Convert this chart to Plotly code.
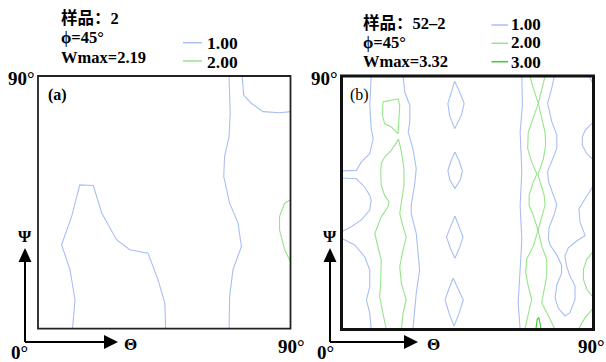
import plotly.graph_objects as go

W, H = 606, 362

# ---------------- data (Θ, Ψ in degrees) ----------------
# Panel (a) – sample 2
a_c1_theta = [12.3, 13.2, 11.4, 8.4, 12.0, 14.9, 19.7, 22.7, 28.0, 32.7, 39.2, 42.8, 45.2, 45.5]
a_c1_psi = [0, 10.3, 21.0, 29.9, 40.0, 51.2, 51.0, 41.2, 31.7, 28.1, 26.9, 17.4, 9.1, 0]
a_c2_theta = [68.1, 68.5, 68.1, 66.5, 66.2, 68.3, 71.3, 72.5, 69.5, 68.3, 68.1]
a_c2_psi = [90, 76.7, 68.4, 61.3, 54.2, 44.7, 37.6, 29.3, 21.0, 11.5, 0]
a_c3_theta = [72.8, 73.3, 76.0, 80.2, 86.1, 90]
a_c3_psi = [90, 83.2, 80.3, 77.3, 76.9, 77.3]
a_g1_theta = [90, 87.9, 86.1, 86.1, 87.9, 90]
a_g1_psi = [45.9, 44.7, 40.0, 35.2, 28.1, 23.9]

# Panel (b) – sample 52-2, level 1.00
b_b1a_theta = [10.6, 10.1, 10.6, 11.3, 10.1, 7.1, 5.3, 0]
b_b1a_psi = [90, 79.6, 71.3, 67.7, 62.4, 59.5, 56.5, 56.3]
b_b1b_theta = [0, 5.3, 8.3, 10.1, 10.6, 10.1, 7.1, 3.5, 0]
b_b1b_psi = [53.8, 53.5, 50.6, 47.6, 46.0, 42.4, 38.9, 36.5, 34.7]
b_b1c_theta = [0, 4.7, 8.3, 10.1, 10.1, 8.9, 10.1, 10.6]
b_b1c_psi = [32.4, 30.0, 25.8, 21.1, 15.2, 10.5, 5.8, 0]
b_b2_theta = [22.0, 22.6, 24.4, 24.4, 23.8, 25.5, 26.7, 26.1, 24.9, 24.9, 26.7, 27.3, 27.9, 26.7, 26.1, 25.5]
b_b2_psi = [90, 84.3, 79.6, 73.7, 70.1, 64.2, 57.1, 51.2, 44.2, 41.2, 34.1, 27.1, 21.1, 12.9, 6.9, 0]
b_d1_theta = [40.4, 42.2, 43.8, 42.8, 40.4, 38.6, 38.0, 39.2, 40.4]
b_d1_psi = [88.1, 84.3, 80.2, 76.0, 71.3, 76.0, 80.2, 84.3, 88.1]
b_d2_theta = [40.5, 42.0, 43.2, 42.4, 40.5, 38.7, 38.0, 39.1, 40.5]
b_d2_psi = [63.0, 59.8, 56.3, 53.1, 50.1, 53.1, 56.4, 59.8, 63.0]
b_d3_theta = [40.5, 42.0, 43.4, 42.2, 40.5, 38.8, 37.5, 39.0, 40.5]
b_d3_psi = [40.3, 36.6, 32.9, 29.1, 25.3, 29.1, 32.9, 36.6, 40.3]
b_d4_theta = [39.9, 41.8, 43.5, 42.0, 40.2, 38.4, 37.0, 38.3, 39.9]
b_d4_psi = [18.2, 14.3, 10.5, 5.8, 1.2, 5.8, 10.5, 14.3, 18.2]
b_b3_theta = [64.4, 64.6, 63.8, 64.4, 63.8, 64.4, 63.8, 63.1, 63.8]
b_b3_psi = [90, 79.6, 70.1, 55.9, 44.1, 31.8, 21.4, 9.5, 0]
b_b4_theta = [76.0, 75.1, 73.6, 75.1, 76.9, 76.9, 75.1, 73.6, 73.9, 76.0, 76.9, 76.0, 74.1, 73.9,
              74.5, 76.9, 78.6, 78.6, 76.9, 76.3, 77.4, 79.8, 81.6, 83.4, 83.4, 81.6, 80.4, 79.8,
              81.0, 84.0, 87.0, 85.2, 84.8, 87.0, 90]
b_b4_psi = [90, 85.7, 80.3, 73.8, 69.1, 64.4, 59.7, 56.1, 52.6, 46.7, 44.4, 40.9, 36.1, 32.1,
            30.0, 26.4, 22.9, 19.9, 15.8, 11.1, 7.6, 4.8, 6.0, 10.7, 15.4, 19.0, 22.5, 26.1,
            29.0, 31.4, 33.4, 38.1, 42.8, 46.4, 51.1]
b_b5_theta = [90, 87.0, 86.0, 86.0, 87.6, 90]
b_b5_psi = [73.7, 70.7, 68.3, 65.4, 62.4, 60.1]
b_b6_theta = [88.4, 89.1, 90]
b_b6_psi = [90, 88.8, 86.7]

# Panel (b), level 2.00
b_g1_theta = [14.8, 17.2, 20.2, 20.8, 20.4, 20.2, 17.8, 15.4, 14.6, 14.8]
b_g1_psi = [80.8, 81.4, 81.9, 79.6, 74.8, 69.5, 71.9, 73.1, 76.0, 80.8]
b_g2_theta = [16.0, 14.8, 13.6, 14.0, 14.2, 13.0, 11.9, 14.2, 16.6, 17.0, 15.4, 14.2, 14.0, 14.2, 15.4,
              17.8, 20.4, 21.4, 22.3, 22.3, 21.4, 20.8, 22.0, 23.1, 22.0, 20.8, 21.4, 23.1, 22.0, 21.4]
b_g2_psi = [0, 5.8, 11.6, 16.4, 24.7, 29.4, 34.1, 40.0, 43.6, 45.3, 47.6, 51.2, 55.9, 58.9, 61.2,
            63.6, 67.6, 63.0, 57.1, 51.2, 44.7, 41.2, 36.5, 32.9, 28.2, 22.3, 16.4, 10.5, 5.8, 0]
b_gl_theta = [67.3, 68.5, 70.3, 68.5, 66.7, 66.5, 67.9, 69.8, 68.5, 67.0, 67.0, 68.5, 70.2, 68.5,
              66.1, 65.8, 66.7, 67.9, 66.7, 65.5]
b_gl_psi = [90, 85.7, 80.3, 75.0, 70.1, 64.2, 59.5, 55.2, 52.4, 47.6, 44.1, 40.5, 35.3, 29.6,
            24.9, 20.1, 15.4, 10.7, 5.9, 0]
b_gr_theta = [72.7, 71.7, 70.3, 71.5, 72.7, 72.9, 72.1, 70.2, 70.9, 72.4, 72.7, 71.7, 70.2, 71.5,
              73.3, 73.3, 72.1, 71.5, 73.3, 75.6, 76.3]
b_gr_psi = [90, 85.7, 80.3, 75.0, 70.1, 65.4, 60.6, 55.2, 52.4, 47.6, 44.1, 40.5, 35.3, 29.6,
            24.9, 19.0, 13.1, 9.5, 6.0, 1.8, 0]
b_g3_theta = [90, 87.6, 86.4, 86.4, 87.6, 90]
b_g3_psi = [27.9, 24.9, 21.4, 17.8, 14.3, 11.3]
b_g4_theta = [90, 87.0, 85.2, 84.8]
b_g4_psi = [7.7, 4.2, 1.2, 0]

# Panel (b), level 3.00
b_h1_theta = [69.4, 69.9, 70.5, 71.3]
b_h1_psi = [0, 3.6, 4.2, 0]

levels_a = ["1.00", "2.00"]
levels_b = ["1.00", "2.00", "3.00"]
header_a = ["样品：2", "ϕ=45°", "Wmax=2.19"]
header_b = ["样品：52–2", "ϕ=45°", "Wmax=3.32"]

# ---------------- styling ----------------
BLUE = "#a9bef2"
GREEN = "#95e48a"
DGREEN = "#3ccb36"
LW = 1.1
SERIF = "Liberation Serif, Noto Sans CJK SC, serif"

fig = go.Figure()


def add_line(th, ps, color, ax):
    xa, ya = ("x", "y") if ax == 1 else ("x2", "y2")
    fig.add_trace(go.Scatter(x=th, y=ps, mode="lines", line=dict(color=color, width=LW),
                             xaxis=xa, yaxis=ya, showlegend=False, hoverinfo="skip"))


for th, ps in [(a_c1_theta, a_c1_psi), (a_c2_theta, a_c2_psi), (a_c3_theta, a_c3_psi)]:
    add_line(th, ps, BLUE, 1)
add_line(a_g1_theta, a_g1_psi, GREEN, 1)

for th, ps in [(b_b1a_theta, b_b1a_psi), (b_b1b_theta, b_b1b_psi), (b_b1c_theta, b_b1c_psi),
               (b_b2_theta, b_b2_psi), (b_d1_theta, b_d1_psi), (b_d2_theta, b_d2_psi),
               (b_d3_theta, b_d3_psi), (b_d4_theta, b_d4_psi), (b_b3_theta, b_b3_psi),
               (b_b4_theta, b_b4_psi), (b_b5_theta, b_b5_psi), (b_b6_theta, b_b6_psi)]:
    add_line(th, ps, BLUE, 2)
for th, ps in [(b_g1_theta, b_g1_psi), (b_g2_theta, b_g2_psi), (b_gl_theta, b_gl_psi),
               (b_gr_theta, b_gr_psi), (b_g3_theta, b_g3_psi), (b_g4_theta, b_g4_psi)]:
    add_line(th, ps, GREEN, 2)
add_line(b_h1_theta, b_h1_psi, DGREEN, 2)


def px(x):
    return x / W


def py(y):
    return 1 - y / H


axis_common = dict(range=[0, 90], showgrid=False, zeroline=False, showticklabels=False,
                   ticks="", showline=False, fixedrange=True)
fig.update_layout(
    width=W, height=H, autosize=False,
    margin=dict(l=0, r=0, t=0, b=0),
    paper_bgcolor="white", plot_bgcolor="white",
    xaxis=dict(domain=[px(38), px(290.5)], anchor="y", **axis_common),
    yaxis=dict(domain=[py(328.7), py(76)], anchor="x", **axis_common),
    xaxis2=dict(domain=[px(341.5), px(593.5)], anchor="y2", **axis_common),
    yaxis2=dict(domain=[py(329.5), py(76)], anchor="x2", **axis_common),
)

shapes = []
# panel borders
shapes.append(dict(type="rect", xref="x domain", yref="y domain", x0=0, x1=1, y0=0, y1=1,
                   line=dict(color="#222", width=1.8)))
shapes.append(dict(type="rect", xref="x2 domain", yref="y2 domain", x0=0, x1=1, y0=0, y1=1,
                   line=dict(color="#111", width=3)))


def arrows(x0, y0, xtip, ytip):
    # vertical arrow
    shapes.append(dict(type="line", xref="paper", yref="paper", x0=px(x0), y0=py(y0),
                       x1=px(x0), y1=py(ytip + 12), line=dict(color="black", width=2)))
    shapes.append(dict(type="path", xref="paper", yref="paper",
                       path=f"M {px(x0)} {py(ytip)} L {px(x0-6.5)} {py(ytip+14)} L {px(x0+6.5)} {py(ytip+14)} Z",
                       fillcolor="black", line=dict(color="black", width=0)))
    # horizontal arrow
    shapes.append(dict(type="line", xref="paper", yref="paper", x0=px(x0), y0=py(y0),
                       x1=px(xtip - 12), y1=py(y0), line=dict(color="black", width=2)))
    shapes.append(dict(type="path", xref="paper", yref="paper",
                       path=f"M {px(xtip)} {py(y0)} L {px(xtip-14)} {py(y0-7)} L {px(xtip-14)} {py(y0+7)} Z",
                       fillcolor="black", line=dict(color="black", width=0)))


arrows(25, 342, 118, 248)
arrows(330, 342, 418, 248)

# legend samples
for i, yy in enumerate([42.7, 61]):
    shapes.append(dict(type="line", xref="paper", yref="paper", x0=px(183), x1=px(202),
                       y0=py(yy), y1=py(yy), line=dict(color=[BLUE, GREEN][i], width=1.5)))
for i, yy in enumerate([25, 43.3, 61.7]):
    shapes.append(dict(type="line", xref="paper", yref="paper", x0=px(491.5), x1=px(508),
                       y0=py(yy), y1=py(yy), line=dict(color=[BLUE, GREEN, DGREEN][i], width=1.5)))

ann = []


def text(t, x, y, size=19, xanchor="left", bold=True):
    s = f"<b>{t}</b>" if bold else t
    ann.append(dict(text=s, x=px(x), y=py(y), xref="paper", yref="paper", showarrow=False,
                    xanchor=xanchor, yanchor="middle",
                    font=dict(family=SERIF, size=size, color="black")))


for t, yy in zip(header_a, [18.5, 38, 57.5]):
    text(t, 59, yy, size=16.5)
for t, yy in zip(levels_a, [42.5, 62]):
    text(t, 205, yy, size=17.5)
for t, yy in zip(header_b, [23, 42, 61.5]):
    text(t, 361, yy, size=16.5)
for t, yy in zip(levels_b, [24.5, 43, 62.5]):
    text(t, 509, yy, size=17)

# corner angle labels
text("90°", 37, 78, xanchor="right")
text("90°", 340, 78, xanchor="right")
text("0°", 20, 352, xanchor="center")
text("0°", 325, 352, xanchor="center")
text("90°", 291, 346, xanchor="center")
text("90°", 591, 346, xanchor="center")
# axis symbols
text("Ψ", 25, 236, size=17, xanchor="center")
text("Ψ", 330, 236, size=17, xanchor="center")
text("Θ", 130, 344, size=17, xanchor="center")
text("Θ", 433, 344, size=17, xanchor="center")
# panel tags
text("(a)", 46, 95, size=16, bold=True)
text("(b)", 348, 95, size=16, bold=False)

fig.update_layout(shapes=shapes, annotations=ann)
fig.write_html("out.html", config={"displayModeBar": False},
               post_script="document.body.style.margin='0';document.body.style.overflow='hidden';")
